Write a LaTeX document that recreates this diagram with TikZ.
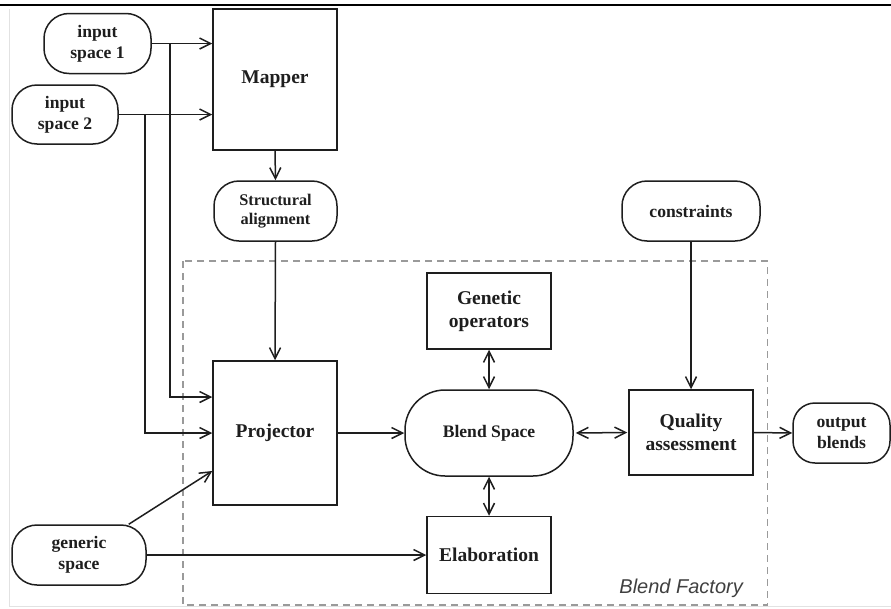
\documentclass[tikz,border=0pt]{standalone}
\usepackage{fontspec}
\setmainfont{Liberation Serif}
\newfontfamily\lsans{Liberation Sans}
\usetikzlibrary{arrows.meta,calc}
\definecolor{ink}{HTML}{1E1E1E}
\definecolor{dashgray}{HTML}{9A9A9A}
\definecolor{edgegray}{HTML}{E2E2E2}
\tikzset{
  base/.style={draw=ink, line width=1.5pt, text=ink, align=center, inner sep=0pt},
  sq/.style={base, rectangle},
  rnd/.style={base, rectangle, rounded corners=#1},
  rnd/.default=25pt,
  big/.style={font=\bfseries\fontsize{19.5}{23}\selectfont},
  mid/.style={font=\bfseries\fontsize{17.6}{21}\selectfont},
  small/.style={font=\bfseries\fontsize{16.3}{19}\selectfont},
  tip/.tip={Straight Barb[length=11pt,width=11pt]},
  arr/.style={draw=ink, line width=1.5pt, -tip},
  darr/.style={draw=ink, line width=1.5pt, tip-tip},
}
\begin{document}
\begin{tikzpicture}[x=1pt,y=-1pt]
\useasboundingbox[fill=white] (0,0) rectangle (891,608);
% page edges
\draw[line width=2pt, black] (0,4.5) -- (891,4.5);
\draw[edgegray, line width=0.8pt] (9.5,9) -- (9.5,606.5) -- (891,606.5);

% blend factory frame
\draw[dashgray, line width=1.2pt, dash pattern=on 7pt off 5pt] (183,261) rectangle (767.5,605);
\node[anchor=base east, font=\lsans\itshape\fontsize{20}{24}\selectfont, text=ink!85, inner sep=0pt] (bf) at (743,593) {Blend Factory};

% nodes
\node[rnd, mid, minimum width=107pt, minimum height=60pt] (i1) at (97.5,43.5) {input\\space 1};
\node[rnd, mid, minimum width=106pt, minimum height=59pt] (i2) at (65,114.5) {input\\space 2};
\node[sq, big, minimum width=124pt, minimum height=141pt] (mapper) at (275,79.5) {Mapper};
\node[rnd, small, minimum width=123pt, minimum height=60pt] (sa) at (275.5,211) {Structural\\alignment};
\node[sq, big, minimum width=124pt, minimum height=144pt] (proj) at (275,433) {Projector};
\node[rnd, mid, minimum width=134pt, minimum height=60pt] (gen) at (79,555) {generic\\space};
\node[sq, big, minimum width=124pt, minimum height=76pt] (go) at (489,311) {Genetic\\operators};
\node[rnd=40pt, mid, minimum width=168pt, minimum height=86pt] (blend) at (489,433) {Blend Space};
\node[sq, big, minimum width=124pt, minimum height=77pt] (elab) at (489,555) {Elaboration};
\node[sq, big, minimum width=124pt, minimum height=85pt] (qa) at (691,432.5) {Quality\\assessment};
\node[rnd, mid, minimum width=138pt, minimum height=60pt] (cons) at (691,211) {constraints};
\node[rnd=22pt, mid, minimum width=97pt, minimum height=60pt] (out) at (841.5,433) {output\\blends};

% helper coordinates
\coordinate (j1) at (170,43.5);
\coordinate (j2) at (145,114.5);
\coordinate (p1) at ($(proj.west)+(0,-36)$);
\coordinate (p3) at ($(proj.west)+(0,38)$);
\coordinate (g1) at ($(gen.north east)+(-18,0)$);

% connectors
\draw[arr] (i1.east) -- (mapper.west |- i1.east);
\draw[arr] (i2.east) -- (mapper.west |- i2.east);
\draw[arr] (j1) |- (p1);
\draw[arr] (j2) |- (proj.west);
\draw[arr] (mapper.south) -- (sa.north);
\draw[arr] (sa.south) -- (proj.north);
\draw[arr] (proj.east) -- (blend.west);
\draw[arr] (g1) -- (p3);
\draw[arr] (gen.east) -- (elab.west);
\draw[darr] (go.south) -- (blend.north);
\draw[darr] (blend.south) -- (elab.north);
\draw[darr] ($(blend.east)+(2,0)$) -- ($(qa.west)+(-1,0)$);
\draw[arr] (cons.south) -- (qa.north);
\draw[arr] (qa.east) -- (out.west);
\end{tikzpicture}
\end{document}
